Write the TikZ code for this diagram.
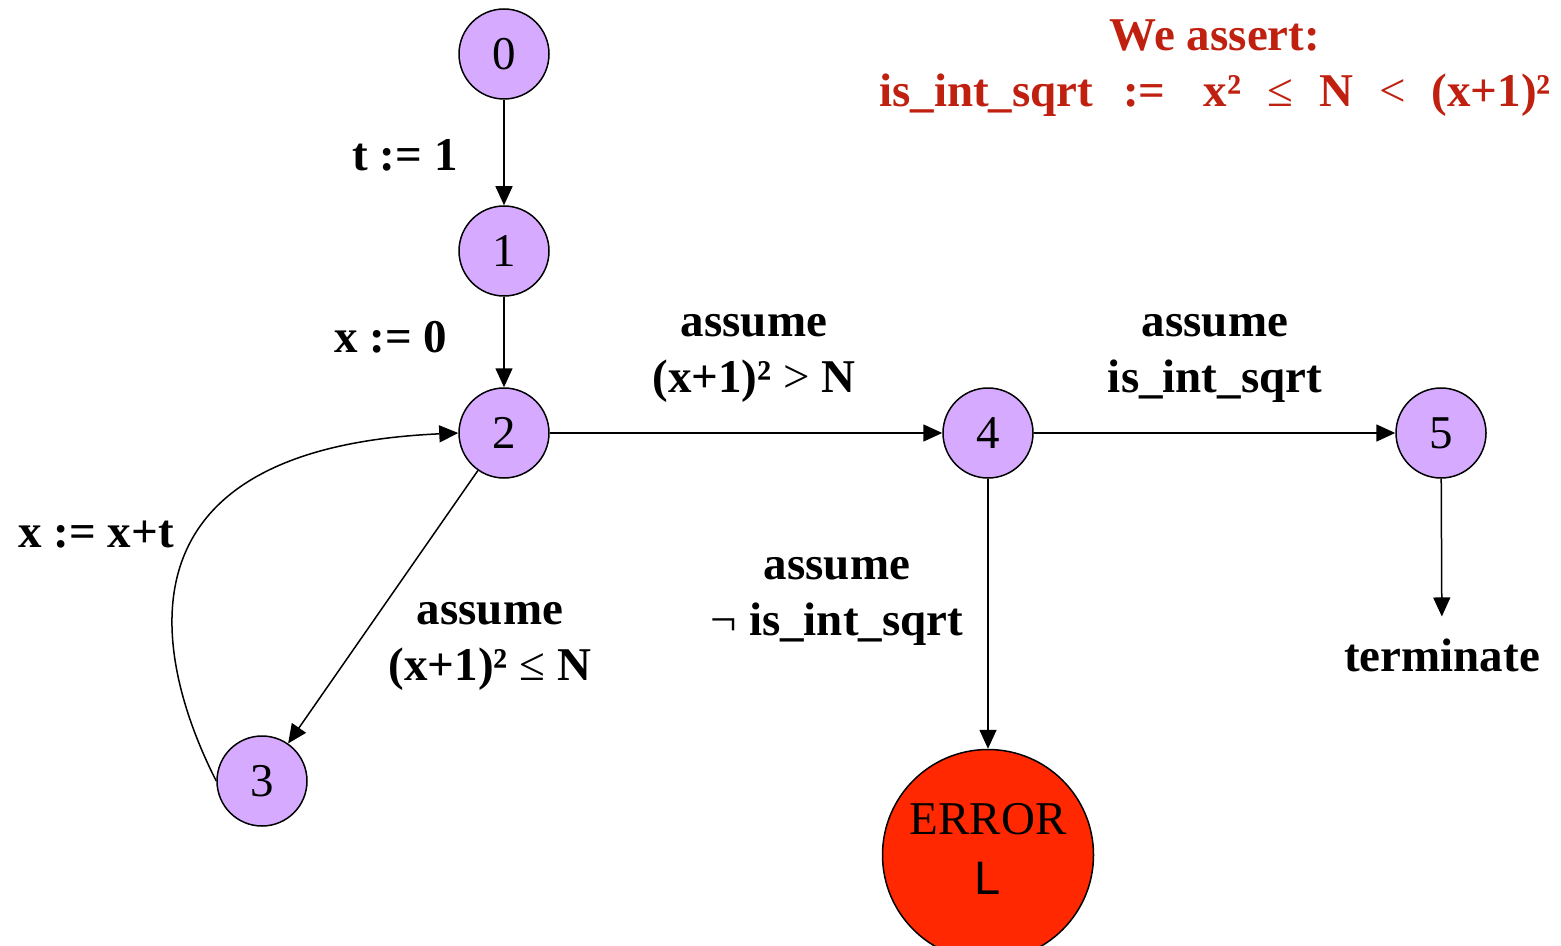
\documentclass[tikz,border=0pt]{standalone}
\usepackage{fontspec}
\setmainfont{Liberation Serif}
\newfontfamily\sansL{Liberation Sans}
\usepackage{tikz}
\usetikzlibrary{positioning,arrows.meta}
\definecolor{statefill}{RGB}{214,170,255}
\definecolor{errfill}{RGB}{255,40,0}
\definecolor{asserttext}{RGB}{192,32,16}
\tikzset{
  statenode/.style={circle, draw, line width=0.75pt, fill=statefill, minimum size=45pt,
    inner sep=0pt, font=\fontsize{23.5}{28}\selectfont},
  errnode/.style={statenode, fill=errfill, minimum size=105.5pt, align=center},
  edgearrow/.style={-{Triangle[length=9.5pt,width=8.5pt]}, line width=0.75pt},
  edgelabel/.style={align=center, inner sep=1pt, font=\fontsize{23.5}{28}\selectfont\bfseries},
}

\begin{document}
\begin{tikzpicture}[x=0.5pt, y=-0.5pt]
  \useasboundingbox (0,0) rectangle (1561,946);

  \foreach \n/\x/\y in {0/504/54, 1/504/251, 2/504/433, 3/262/781, 4/988/433, 5/1441/433}
    \node[statenode] (s\n) at (\x,\y) {\n};
  \node[errnode] (err) at (988,855) {ERROR\\[2pt]{\sansL L}\rule[-6pt]{0pt}{6pt}};
  \node[edgelabel, outer sep=10pt] (term) at (1442,655) {terminate};

  \foreach \a/\b in {s0/s1, s1/s2, s2/s4, s4/s5, s2/s3, s4/err}
    \draw[edgearrow] (\a) -- (\b);
  \draw[edgearrow] (s5) -- (term);
  \draw[edgearrow] (s3.west) .. controls (175,700) and (75,450) .. (s2.west);

  \node[edgelabel] (lt) at (405,155) {t := 1};
  \node[edgelabel] (lx) at (391,337) {x := 0};
  \node[edgelabel] (lloop) at (96,535) {x := x+t};
  \node[edgelabel] (lgt) at (754,358) {assume\\(x+1)² \textmd{>} N};
  \node[edgelabel] (lle) at (490,646) {assume\\(x+1)² \textmd{≤} N};
  \node[edgelabel] (lok) at (1215,358) {assume\\is\_int\_sqrt};
  \node[edgelabel] (lnot) at (837,601) {assume\\\textmd{¬} is\_int\_sqrt};

  \node[edgelabel, text=asserttext] (assert) at (1215,68)
    {We assert:\\is\_int\_sqrt\hspace{15pt}:=\hspace{19pt}x²\hspace{13pt}\textmd{≤}\hspace{13pt}N\hspace{13pt}\textmd{<}\hspace{13pt}(x+1)²};
\end{tikzpicture}
\end{document}
